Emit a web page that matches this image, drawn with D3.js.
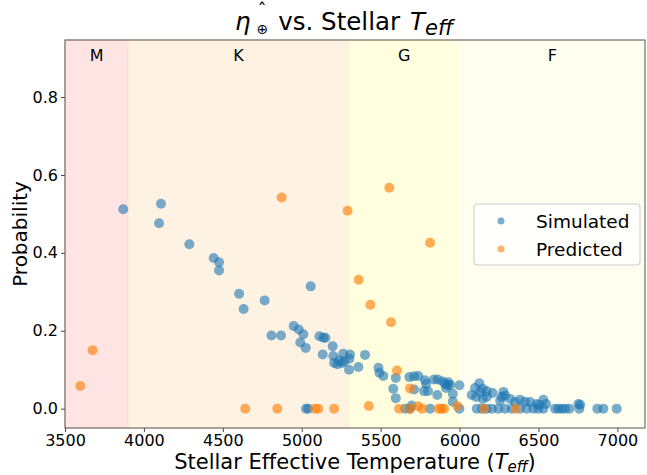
<!DOCTYPE html>
<html>
<head>
<meta charset="utf-8">
<script src="https://cdn.jsdelivr.net/npm/d3@7"></script>
<style>
  body { margin: 0; background: #fff; }
  text { font-family: "DejaVu Sans", sans-serif; fill: #000; }
</style>
</head>
<body>
<svg id="chart" width="647" height="475"></svg>
<script>
// eta-earth vs stellar temperature -- scatter

var simTeff = [3869, 4108, 4096, 4288, 4442, 4476, 4476, 4603, 4632, 4765,
  5057, 4808, 4869, 4949, 4981, 5010, 4991, 5025, 5112, 5137,
  5150, 5196, 5133, 5200, 5263, 5306, 5302, 5238, 5205, 5226,
  5254, 5270, 5300, 5359, 5027, 5042, 5401, 5486, 5492, 5517,
  5596, 5580, 5596, 5682, 5712, 5739, 5712, 5781, 5788, 5775,
  5800, 5838, 5862, 5893, 5908, 5923, 5859, 5655, 5686, 5697,
  5813, 5929, 5940, 5914, 5999, 5957, 5957, 5999, 6125, 6098,
  6147, 6077, 6105, 6130, 6172, 6210, 6172, 6147, 6278, 6267,
  6288, 6257, 6320, 6352, 6383, 6415, 6447, 6489, 6531, 6548,
  6506, 6109, 6141, 6172, 6204, 6246, 6288, 6331, 6383, 6426,
  6468, 6499, 6531, 6605, 6626, 6648, 6669, 6696, 6753, 6764,
  6759, 6873, 6911, 6996];

var simProb = [0.512, 0.526, 0.476, 0.422, 0.387, 0.376, 0.355, 0.295, 0.256, 0.278,
  0.314, 0.188, 0.188, 0.212, 0.203, 0.191, 0.170, 0.156, 0.186, 0.182,
  0.182, 0.160, 0.139, 0.135, 0.141, 0.139, 0.128, 0.124, 0.117, 0.114,
  0.117, 0.121, 0.100, 0.107, 0.0, 0.0, 0.138, 0.105, 0.092, 0.084,
  0.079, 0.051, 0.027, 0.081, 0.083, 0.084, 0.049, 0.073, 0.064, 0.045,
  0.045, 0.075, 0.075, 0.070, 0.064, 0.060, 0.035, 0.0, 0.0, 0.008,
  0.0, 0.068, 0.061, 0.053, 0.060, 0.038, 0.018, 0.0, 0.065, 0.053,
  0.051, 0.035, 0.030, 0.043, 0.045, 0.040, 0.030, 0.025, 0.043, 0.030,
  0.034, 0.021, 0.025, 0.017, 0.023, 0.018, 0.017, 0.012, 0.023, 0.012,
  0.010, 0.0, 0.0, 0.0, 0.0, 0.0, 0.0, 0.0, 0.0, 0.0,
  0.0, 0.0, 0.0, 0.0, 0.0, 0.0, 0.0, 0.0, 0.012, 0.010,
  0.0, 0.0, 0.0, 0.0];

var predTeff = [3597, 3675, 4642, 4845, 4873, 5084, 5105, 5205, 5291, 5361,
  5425, 5435, 5555, 5566, 5604, 5617, 5686, 5686, 5737, 5763,
  5813, 5868, 5885, 5902, 5986, 6155, 6356];

var predProb = [0.058, 0.150, 0.0, 0.0, 0.542, 0.0, 0.0, 0.0, 0.508, 0.331,
  0.007, 0.267, 0.567, 0.222, 0.098, 0.0, 0.052, 0.0, 0.006, 0.0,
  0.426, 0.0, 0.0, 0.0, 0.007, 0.0, 0.0];

// spectral classes
var classNames = ["M", "K", "G", "F"];
var classFrom = [3500, 3900, 5300, 6000];
var classTo = [3900, 5300, 6000, 7175];
var classColors = ["#ffe4e4", "#fef3e3", "#ffffe0", "#fffff0"];
var classEdges = ["#fcd6d0", "#fde6cc", "#fffac8", "#fffff0"];

var xTicks = [3500, 4000, 4500, 5000, 5500, 6000, 6500, 7000];
var yTicks = [0.0, 0.2, 0.4, 0.6, 0.8];

var seriesNames = ["Simulated", "Predicted"];
var seriesColors = ["#1f77b4", "#ff7f0e"];

///////////////////////////////////////////////////////////////////////////////
// frame

var plotL = 65, plotR = 645, plotT = 40, plotB = 428;

var svg = d3.select("#chart");

var x = d3.scaleLinear().domain([3500, 7175]).range([plotL, plotR]);
var y = d3.scaleLinear().domain([-0.0497, 0.9466]).range([plotB, plotT]);

// class bands
var bands = svg.append("g");
classNames.forEach(function (name, i) {
  bands.append("rect")
    .attr("x", x(classFrom[i]))
    .attr("y", plotT)
    .attr("width", x(classTo[i]) - x(classFrom[i]))
    .attr("height", plotB - plotT)
    .attr("fill", classColors[i])
    .attr("stroke", classEdges[i])
    .attr("stroke-width", 1);

  bands.append("text")
    .attr("x", x((classFrom[i] + classTo[i]) / 2))
    .attr("y", 61)
    .attr("text-anchor", "middle")
    .style("font-size", "16px")
    .text(name);
});

///////////////////////////////////////////////////////////////////////////////
// points

var drawPoints = function (xs, ys, color, opacity) {
  svg.append("g").selectAll("circle")
    .data(xs)
    .enter().append("circle")
    .attr("cx", function (d) { return x(d); })
    .attr("cy", function (d, i) { return y(ys[i]); })
    .attr("r", 5)
    .attr("fill", color)
    .attr("fill-opacity", opacity);
};

drawPoints(simTeff, simProb, seriesColors[0], 0.6);
drawPoints(predTeff, predProb, seriesColors[1], 0.65);

///////////////////////////////////////////////////////////////////////////////
// axes

var xAxis = svg.append("g")
  .attr("transform", "translate(0," + plotB + ")")
  .call(d3.axisBottom(x).tickValues(xTicks).tickSize(4).tickPadding(3)
    .tickFormat(d3.format("d")));

var yAxis = svg.append("g")
  .attr("transform", "translate(" + plotL + ",0)")
  .call(d3.axisLeft(y).tickValues(yTicks).tickSize(4).tickPadding(3)
    .tickFormat(d3.format(".1f")));

[xAxis, yAxis].forEach(function (ax) {
  ax.select(".domain").remove();
  ax.selectAll("line").attr("stroke", "#444");
  ax.selectAll("text")
    .style("font-size", "16px")
    .style("font-family", "DejaVu Sans, sans-serif")
    .attr("fill", "#000");
});

svg.append("rect")
  .attr("x", plotL).attr("y", plotT)
  .attr("width", plotR - plotL).attr("height", plotB - plotT)
  .attr("fill", "none")
  .attr("stroke", "#555")
  .attr("stroke-width", 1);

///////////////////////////////////////////////////////////////////////////////
// titles

var title = svg.append("text")
  .attr("x", 235)
  .attr("y", 30)
  .style("font-size", "24.5px");
title.append("tspan").style("font-style", "italic").text("η");
title.append("tspan").attr("dx", 6).attr("dy", 4).style("font-size", "14px").text("⊕");
title.append("tspan").attr("dx", 10).attr("dy", -4).text("vs. Stellar");
title.append("tspan").attr("dx", 10).style("font-style", "italic").text("T");
title.append("tspan").attr("dy", 5).style("font-size", "21px")
  .style("font-style", "italic").text("eff");

// the hat over eta
svg.append("text")
  .attr("x", 262)
  .attr("y", 16)
  .attr("text-anchor", "middle")
  .style("font-size", "18px")
  .text("ˆ");

var xLabel = svg.append("text")
  .attr("x", (plotL + plotR) / 2)
  .attr("y", 469)
  .attr("text-anchor", "middle")
  .style("font-size", "21px");
xLabel.append("tspan").text("Stellar Effective Temperature (");
xLabel.append("tspan").style("font-style", "italic").text("T");
xLabel.append("tspan").attr("dy", 3).style("font-size", "15px")
  .style("font-style", "italic").text("eff");
xLabel.append("tspan").attr("dy", -3).text(")");

svg.append("text")
  .attr("transform", "translate(27," + (plotT + plotB) / 2 + ") rotate(-90)")
  .attr("text-anchor", "middle")
  .style("font-size", "20px")
  .text("Probability");

///////////////////////////////////////////////////////////////////////////////
// legend

var legend = svg.append("g").attr("transform", "translate(474,204)");

legend.append("rect")
  .attr("width", 166).attr("height", 61)
  .attr("rx", 3)
  .attr("fill", "#fff")
  .attr("fill-opacity", 0.8)
  .attr("stroke", "#ccc");

seriesNames.forEach(function (name, i) {
  legend.append("circle")
    .attr("cx", 27)
    .attr("cy", 17 + i * 28)
    .attr("r", 3.5)
    .attr("fill", seriesColors[i])
    .attr("fill-opacity", 0.6);

  legend.append("text")
    .attr("x", 62)
    .attr("y", 17 + i * 28 + 6.5)
    .style("font-size", "18.5px")
    .text(name);
});
</script>
</body>
</html>
